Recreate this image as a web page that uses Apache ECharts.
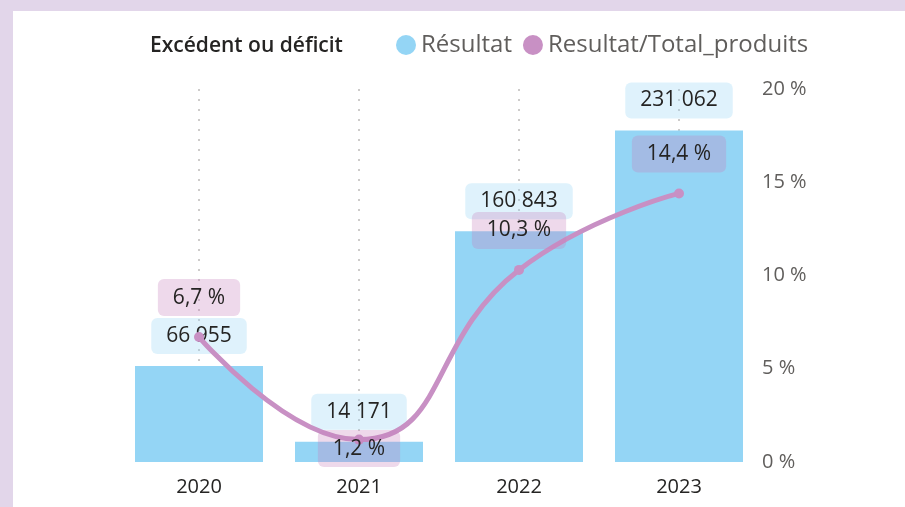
<!DOCTYPE html>
<html>
<head>
<meta charset="utf-8">
<script src="https://cdn.jsdelivr.net/npm/echarts@6/dist/echarts.min.js"></script>
<style>
  html, body { margin: 0; padding: 0; width: 905px; height: 507px; background: #e2d6ea; overflow: hidden; }
  #panel { position: absolute; left: 13px; top: 11px; right: 0; bottom: 0; background: #fff; }
  #chart { position: absolute; left: 0; top: 0; width: 905px; height: 507px; }
</style>
</head>
<body>
<div id="panel"></div>
<div id="chart"></div>
<script>
const years = ['2020', '2021', '2022', '2023'];
const resultat = [66955, 14171, 160843, 231062];
const ratio = [6.7, 1.2, 10.3, 14.4];
const pctTicks = [0, 5, 10, 15, 20];

const font = '"Open Sans", "Noto Sans", sans-serif';

function fmtNum(v) {
  return String(v).replace(/\B(?=(\d{3})+(?!\d))/g, ' ');
}
function fmtPct(v) {
  return v.toFixed(1).replace('.', ',') + ' %';
}

const chart = echarts.init(document.getElementById('chart'));

const option = {
  textStyle: { fontFamily: font },
  title: {
    text: 'Excédent ou déficit',
    left: 145,
    top: 31,
    textStyle: { fontSize: 21, fontWeight: 600, color: '#252423', fontFamily: font }
  },
  legend: {
    left: 391,
    top: 28,
    icon: 'circle',
    itemWidth: 20,
    itemHeight: 20,
    itemGap: 11,
    textStyle: { fontSize: 24, color: '#605e5c', fontFamily: font },
    data: ['Résultat', 'Resultat/Total_produits']
  },
  grid: { left: 119, right: 146, top: 89, bottom: 45 },
  xAxis: {
    type: 'category',
    data: years,
    axisLine: { show: false },
    axisTick: { show: false },
    axisLabel: { fontSize: 20, color: '#252423', margin: 15, fontFamily: font },
    splitLine: {
      show: true,
      alignWithLabel: true,
      lineStyle: { type: [2, 8], color: '#bdbbb9', width: 1.5 }
    }
  },
  yAxis: [
    {
      type: 'value',
      min: 0,
      max: 260000,
      show: false
    },
    {
      type: 'value',
      position: 'right',
      min: 0,
      max: 20,
      interval: 5,
      axisLine: { show: false },
      axisTick: { show: false },
      splitLine: { show: false },
      axisLabel: {
        fontSize: 20,
        color: '#605e5c',
        margin: 3,
        fontFamily: font,
        formatter: v => pctTicks.includes(v) ? v + ' %' : ''
      }
    }
  ],
  series: [
    {
      name: 'Résultat',
      type: 'bar',
      yAxisIndex: 0,
      barWidth: '80%',
      data: resultat,
      itemStyle: { color: '#94d5f5' },
      label: {
        show: true,
        position: 'top',
        distance: 12,
        formatter: p => fmtNum(p.value),
        fontSize: 21,
        lineHeight: 24,
        color: '#252423',
        fontFamily: font,
        backgroundColor: 'rgba(148,212,244,0.3)',
        borderRadius: 6,
        padding: [6, 15]
      },
      z: 2
    },
    {
      name: 'Resultat/Total_produits',
      type: 'line',
      yAxisIndex: 1,
      smooth: 0.5,
      symbol: 'circle',
      symbolSize: 10,
      data: ratio.map((v, i) => i === 1
        ? { value: v, label: { position: 'inside', offset: [0, 9] } }
        : v),
      itemStyle: { color: '#c890c4' },
      lineStyle: { width: 5, color: '#c890c4' },
      label: {
        show: true,
        position: 'top',
        distance: 16,
        formatter: p => fmtPct(p.value),
        fontSize: 21,
        lineHeight: 25,
        color: '#252423',
        fontFamily: font,
        backgroundColor: 'rgba(200,130,190,0.3)',
        borderRadius: 6,
        padding: [6, 15]
      },
      z: 3
    }
  ]
};

chart.setOption(option);
</script>
</body>
</html>
